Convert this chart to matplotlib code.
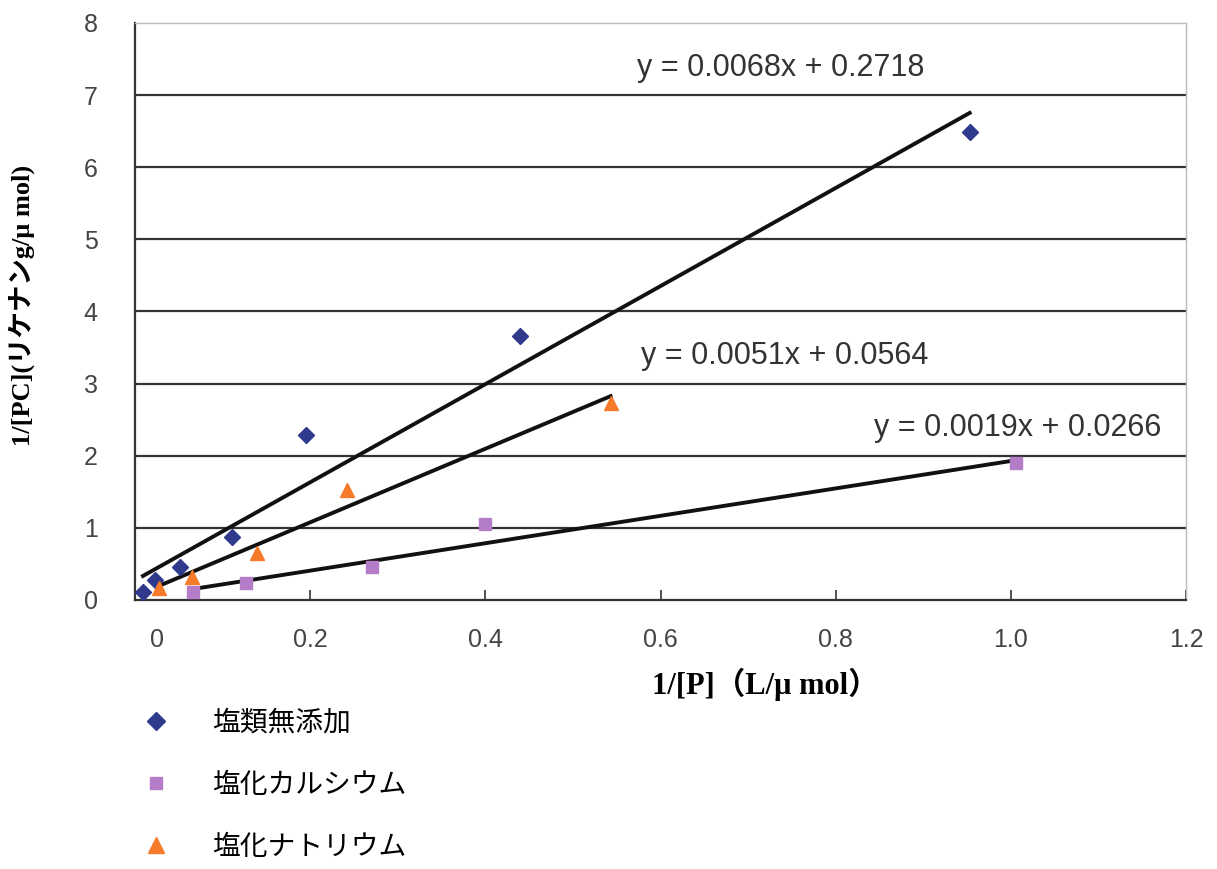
import numpy as np
import matplotlib
matplotlib.use("Agg")
import matplotlib.pyplot as plt
import matplotlib.transforms as mtransforms

plt.rcParams["font.family"] = ["Liberation Sans", "Noto Sans CJK JP"]

# データ
series_names = ["塩類無添加", "塩化カルシウム", "塩化ナトリウム"]

x_none = [0.009, 0.023, 0.051, 0.111, 0.195, 0.439, 0.953]
y_none = [0.11, 0.28, 0.46, 0.87, 2.29, 3.66, 6.49]

x_ca = [0.066, 0.127, 0.270, 0.400, 1.006]
y_ca = [0.11, 0.23, 0.46, 1.06, 1.90]

x_na = [0.027, 0.065, 0.139, 0.242, 0.543]
y_na = [0.17, 0.32, 0.65, 1.52, 2.73]

# 近似直線の係数（系列順: 無添加, カルシウム, ナトリウム。式は x を 1000 倍した単位）
fit_slope = [0.0068, 0.0019, 0.0051]
fit_intercept = [0.2718, 0.0266, 0.0564]
fit_unit = 1000

xticks = [0, 0.2, 0.4, 0.6, 0.8, 1.0, 1.2]
xtick_labels = ["0", "0.2", "0.4", "0.6", "0.8", "1.0", "1.2"]
yticks = [0, 1, 2, 3, 4, 5, 6, 7, 8]

colors = ["#2f3a8c", "#b57cc8", "#f57a2a"]
markers = ["D", "s", "^"]
msizes = [8, 8, 10]

fig = plt.figure(figsize=(12.17, 8.69), dpi=100)
ax = fig.add_axes([0.111, 0.3096, 0.8635, 0.664])

# 横グリッド線
for yv in yticks[1:-1]:
    ax.axhline(yv, color="#333333", lw=1.6, zorder=1)

data = [(x_none, y_none), (x_ca, y_ca), (x_na, y_na)]
for (xs, ys), name, c, m, ms, a, b in zip(data, series_names, colors, markers,
                                          msizes, fit_slope, fit_intercept):
    ax.plot(xs, ys, linestyle="none", marker=m, ms=ms, color=c,
            markeredgecolor=c, label=name, zorder=3)
    lx = np.array([min(xs), max(xs)])
    ax.plot(lx, a * fit_unit * lx + b, color="#111111", lw=2.8, zorder=2)

# 近似式
ax.text(0.737, 7.38, "y = 0.0068x + 0.2718", ha="center", va="center",
        fontsize=22, color="#333333")
ax.text(0.742, 3.38, "y = 0.0051x + 0.0564", ha="center", va="center",
        fontsize=22, color="#333333")
ax.text(1.008, 2.38, "y = 0.0019x + 0.0266", ha="center", va="center",
        fontsize=22, color="#333333")

ax.set_xlim(0, 1.2)
ax.set_ylim(0, 8)
ax.set_xticks(xticks)
ax.set_xticklabels(xtick_labels)
ax.set_yticks(yticks)
ax.tick_params(axis="x", direction="in", length=7, width=1.2, pad=20,
               labelsize=18, labelcolor="#444444", color="#333333")
ax.tick_params(axis="y", length=0, pad=27, labelsize=18, labelcolor="#444444")

# 「0」のラベルだけ少し右にずれている
lbl0 = ax.get_xticklabels()[0]
lbl0.set_transform(lbl0.get_transform() +
                   mtransforms.ScaledTranslation(0.22, 0, fig.dpi_scale_trans))

for s in ["left", "bottom"]:
    ax.spines[s].set_color("#333333")
    ax.spines[s].set_linewidth(1.6)
for s in ["top", "right"]:
    ax.spines[s].set_color("#bbbbbb")
    ax.spines[s].set_linewidth(1.0)

ax.set_xlabel("1/[P]（L/μ mol）", fontsize=22, fontweight="bold",
              family=["Liberation Serif", "Noto Sans CJK JP"])
ax.xaxis.set_label_coords(0.6, -0.118)
ax.set_ylabel("1/[PC](リケナンg/μ mol)", fontsize=19, fontweight="bold",
              family=["Liberation Serif", "Noto Sans CJK JP"])
ax.yaxis.set_label_coords(-0.095, 0.51)

ax.legend(loc="upper left", bbox_to_anchor=(0.117, 0.182),
          bbox_transform=fig.transFigure, frameon=False, fontsize=20,
          labelspacing=1.3, handlelength=1.0, handletextpad=1.5,
          borderpad=0, borderaxespad=0, markerscale=1.15)

fig.savefig("out.png", dpi=100)
plt.close(fig)
